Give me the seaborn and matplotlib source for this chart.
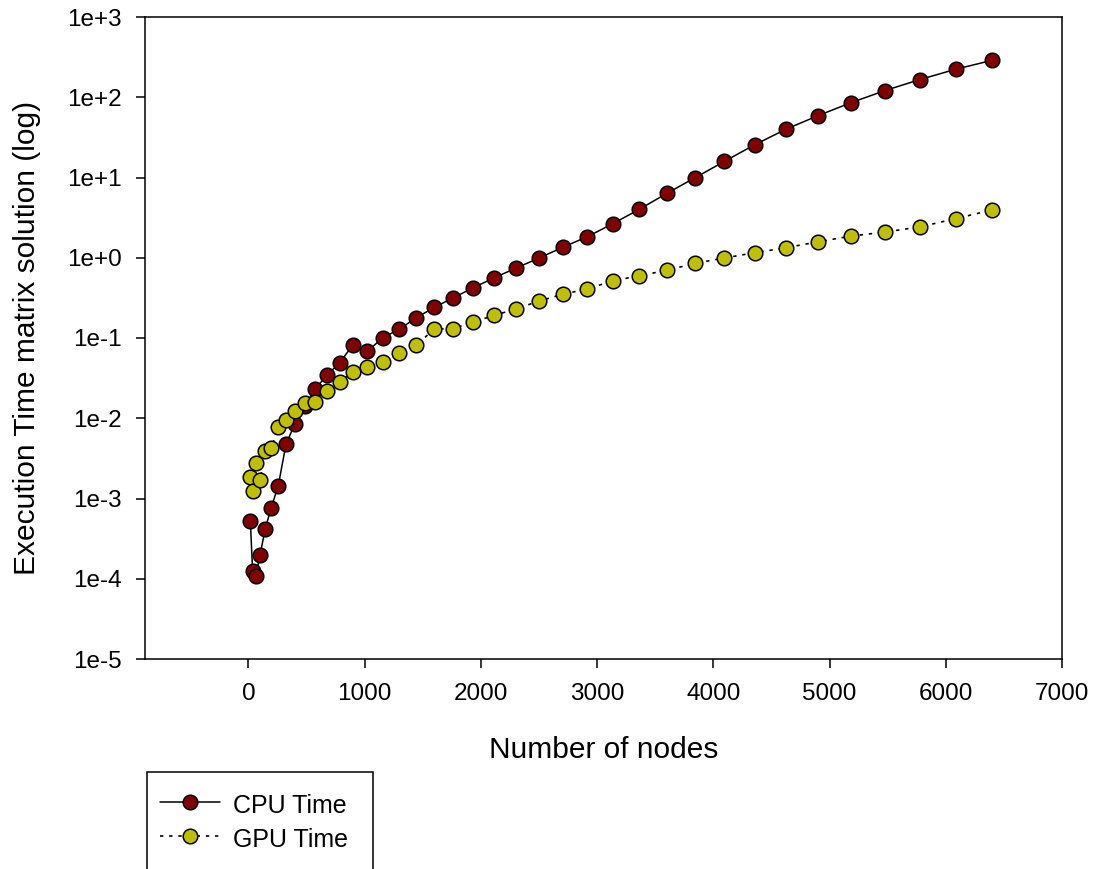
import numpy as np
import pandas as pd
import matplotlib
matplotlib.use("Agg")
import matplotlib.pyplot as plt
import seaborn as sns
from matplotlib.patches import Rectangle
from matplotlib.ticker import FixedLocator, FuncFormatter, NullLocator

# ---------------- data ----------------
nodes = [16, 36, 64, 100, 144, 196, 256, 324, 400, 484, 576, 676, 784, 900,
         1024, 1156, 1296, 1444, 1600, 1764, 1936, 2116, 2304, 2500, 2704,
         2916, 3136, 3364, 3600, 3844, 4096, 4356, 4624, 4900, 5184, 5476,
         5776, 6084, 6400]

cpu_time = [5.3e-4, 1.25e-4, 1.09e-4, 1.98e-4, 4.17e-4, 7.7e-4, 1.43e-3,
            4.8e-3, 8.5e-3, 0.0142, 0.0233, 0.0346, 0.0488, 0.0826, 0.0683,
            0.101, 0.128, 0.179, 0.241, 0.318, 0.424, 0.564, 0.745, 0.99,
            1.35, 1.83, 2.66, 4.02, 6.35, 9.95, 15.9, 25.6, 39.9, 58.9, 85.5,
            121, 166, 223, 289]

gpu_time = [1.85e-3, 1.23e-3, 2.75e-3, 1.71e-3, 3.9e-3, 4.2e-3, 7.85e-3,
            9.5e-3, 0.0122, 0.0154, 0.0161, 0.0219, 0.0283, 0.038, 0.0439,
            0.050, 0.065, 0.082, 0.129, 0.131, 0.158, 0.192, 0.230, 0.289,
            0.35, 0.41, 0.515, 0.597, 0.698, 0.853, 0.993, 1.156, 1.33, 1.58,
            1.86, 2.09, 2.42, 3.07, 3.94]

series_labels = ["CPU Time", "GPU Time"]
x_ticks = [0, 1000, 2000, 3000, 4000, 5000, 6000, 7000]
y_exponents = [-5, -4, -3, -2, -1, 0, 1, 2, 3]

CPU_COLOR = "#800000"
GPU_COLOR = "#BFBF00"

# ---------------- style ----------------
sns.set_theme(style="ticks")
plt.rcParams["font.family"] = ["Liberation Sans", "DejaVu Sans"]
plt.rcParams["text.color"] = "black"
plt.rcParams["axes.labelcolor"] = "black"
plt.rcParams["xtick.color"] = "black"
plt.rcParams["ytick.color"] = "black"

W, H = 1094, 869
fig = plt.figure(figsize=(W / 100, H / 100), dpi=100)
ax = fig.add_axes([145 / W, 1 - 659 / H, (1062 - 145) / W, (659 - 17) / H])

df_cpu = pd.DataFrame({"nodes": nodes, "time": cpu_time})
df_gpu = pd.DataFrame({"nodes": nodes, "time": gpu_time})

sns.lineplot(data=df_cpu, x="nodes", y="time", ax=ax, estimator=None,
             color="black", linewidth=1.1, linestyle="-",
             marker="o", markersize=10.5, markerfacecolor=CPU_COLOR,
             markeredgecolor="black", markeredgewidth=1.1,
             legend=False)
sns.lineplot(data=df_gpu, x="nodes", y="time", ax=ax, estimator=None,
             color="black", linewidth=1.2, linestyle=(0, (2, 3.5)),
             marker="o", markersize=10.5, markerfacecolor=GPU_COLOR,
             markeredgecolor="black", markeredgewidth=1.1,
             legend=False)

ax.set_yscale("log")
ax.set_ylim(1e-5, 1e3)
ax.set_xlim(-890, 7000)
ax.yaxis.set_major_locator(FixedLocator([10.0 ** k for k in y_exponents]))
ax.yaxis.set_minor_locator(NullLocator())
ax.yaxis.set_major_formatter(
    FuncFormatter(lambda v, p: "1e{:+d}".format(int(round(np.log10(v))))))
ax.xaxis.set_major_locator(FixedLocator(x_ticks))
ax.xaxis.set_minor_locator(NullLocator())

for s in ax.spines.values():
    s.set_visible(True)
    s.set_color("black")
    s.set_linewidth(1.1)

ax.tick_params(axis="both", which="major", direction="out", length=6.5,
               width=1.1, labelsize=17.5, pad=10.5, colors="black",
               top=False, right=False)

ax.set_xlabel("Number of nodes", fontsize=21.5)
ax.set_ylabel("Execution Time matrix solution (log)", fontsize=21.5)
ax.xaxis.label.set_va("center")
ax.xaxis.set_label_coords(0.5, -(750 - 659) / 642)
ax.yaxis.label.set_va("center")
ax.yaxis.set_label_coords((27 - 145) / 917, 0.5)

# legend content (no frame) + separate frame running off the bottom edge
handles = ax.lines[:2]
leg = fig.legend(handles=handles, labels=series_labels, loc="upper left",
                 bbox_to_anchor=(160 / W, 1 - 791 / H),
                 bbox_transform=fig.transFigure, frameon=False,
                 fontsize=18, handlelength=2.4, handletextpad=0.52,
                 handleheight=1.32, borderpad=0.0, labelspacing=0.24,
                 borderaxespad=0)
frame = Rectangle((147 / W, -20 / H), (373 - 147) / W, (H - 772 + 20) / H,
                  transform=fig.transFigure, fill=False, edgecolor="black",
                  linewidth=1.1, clip_on=False)
fig.patches.append(frame)

fig.savefig("out.png", dpi=100)
